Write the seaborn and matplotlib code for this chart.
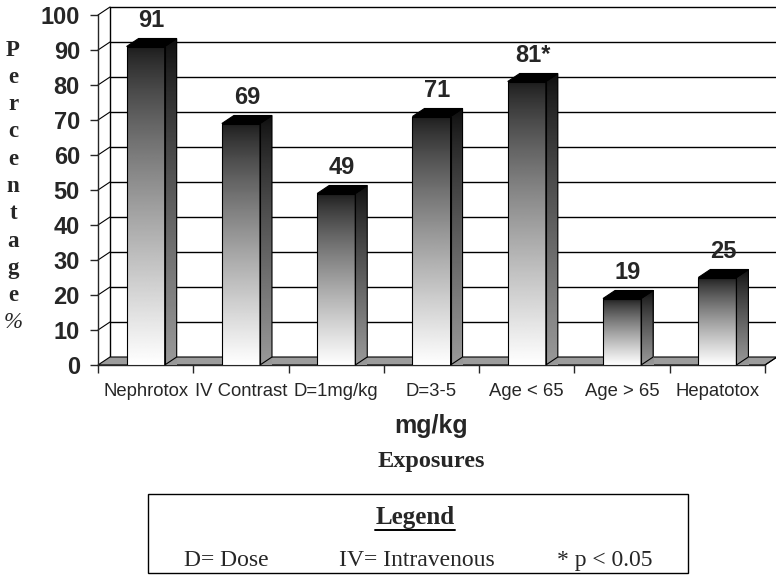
import numpy as np
import pandas as pd
import seaborn as sns
import matplotlib.pyplot as plt
from matplotlib.patches import Polygon, Rectangle
from matplotlib.lines import Line2D

# data
exposures = ["Nephrotox", "IV Contrast", "D=1mg/kg", "D=3-5", "Age < 65", "Age > 65", "Hepatotox"]
percentages = [91, 69, 49, 71, 81, 19, 25]
bar_labels = ["91", "69", "49", "71", "81*", "19", "25"]
yticks = list(range(0, 101, 10))

df = pd.DataFrame({"Exposure": exposures, "Percentage": percentages})

sns.set_style("white")
plt.rcParams["font.family"] = ["Liberation Sans", "DejaVu Sans"]

fig = plt.figure(figsize=(7.76, 5.75), dpi=100)
ax = fig.add_axes([98 / 776, 210 / 575, 667 / 776, 350 / 575])
ax.set_xlim(-0.5, len(exposures) - 0.5)
ax.set_ylim(0, 100)

# 3D depth in data units (12px right, 8px up)
dx = 12 * len(exposures) / 667
dy = 8 * 100 / 350
x0, x1 = -0.5, len(exposures) - 0.5

# floor, back wall and side wall grid
ax.add_patch(Polygon([(x0, 0), (x0 + dx, dy), (x1 + dx, dy), (x1, 0)], closed=True,
                     facecolor="#9c9c9c", edgecolor="black", lw=0.8, zorder=1, clip_on=False))
for v in yticks[1:]:
    ax.add_line(Line2D([x0 + dx, x1 + dx], [v + dy, v + dy], color="black", lw=1.0, zorder=0.5, clip_on=False))
    ax.add_line(Line2D([x0, x0 + dx], [v, v + dy], color="black", lw=0.8, zorder=0.5, clip_on=False))
ax.add_line(Line2D([x0 + dx, x0 + dx], [dy, 100 + dy], color="black", lw=1.0, zorder=0.5, clip_on=False))
ax.add_line(Line2D([x1 + dx, x1 + dx], [dy, 100 + dy], color="black", lw=1.0, zorder=0.5, clip_on=False))
ax.add_line(Line2D([x1, x1 + dx], [0, dy], color="black", lw=0.8, zorder=1.5, clip_on=False))

sns.barplot(data=df, x="Exposure", y="Percentage", width=0.4, color="white",
            edgecolor="black", linewidth=0.8, ax=ax, zorder=3)

grad = np.linspace(0, 1, 256).reshape(-1, 1) ** 0.8
for patch, lab in zip(ax.patches[1:], bar_labels):
    bx, bw, h = patch.get_x(), patch.get_width(), patch.get_height()
    patch.set_facecolor("none")
    patch.set_zorder(4)
    # front face gradient, dark top to white bottom
    im = ax.imshow(grad, cmap="gray", vmin=-0.12, vmax=1.0, aspect="auto",
                   extent=(bx, bx + bw, 0, h), origin="upper", zorder=3, interpolation="bilinear")
    im.set_clip_path(patch)
    # side face
    side = Polygon([(bx + bw, 0), (bx + bw + dx, dy), (bx + bw + dx, h + dy), (bx + bw, h)], closed=True,
                   facecolor="none", edgecolor="black", lw=0.8, zorder=4, clip_on=False)
    ax.add_patch(side)
    im2 = ax.imshow(grad * 0.55, cmap="gray", vmin=-0.05, vmax=0.95, aspect="auto",
                    extent=(bx + bw, bx + bw + dx, 0, h + dy), origin="upper", zorder=3,
                    interpolation="bilinear", clip_on=False)
    im2.set_clip_path(side)
    # top face
    ax.add_patch(Polygon([(bx, h), (bx + dx, h + dy), (bx + bw + dx, h + dy), (bx + bw, h)], closed=True,
                         facecolor="black", edgecolor="black", lw=0.8, zorder=4, clip_on=False))
    ax.text(bx + bw / 2 + dx / 2, h + dy + 1.8, lab, ha="center", va="bottom",
            fontsize=17, fontweight="bold", clip_on=False)

ax.set_xlim(x0, x1)
ax.set_ylim(0, 100)

# axes styling
for s in ["top", "right"]:
    ax.spines[s].set_visible(False)
ax.spines["left"].set_linewidth(1.0)
ax.spines["bottom"].set_linewidth(1.0)
ax.set_yticks(yticks)
ax.set_yticklabels([str(v) for v in yticks], fontsize=17, fontweight="bold")
ax.tick_params(axis="y", left=True, length=6, width=1, pad=7)
ax.set_xticks(range(len(exposures)))
ax.set_xticklabels(exposures, fontsize=13.3, family=["Liberation Sans Narrow", "Liberation Sans"])
ax.set_xticks(np.arange(-0.5, len(exposures)), minor=True)
ax.tick_params(axis="x", which="major", length=0, pad=13)
ax.tick_params(axis="x", which="minor", bottom=True, length=6, width=1)
ax.set_xlabel("")
ax.set_ylabel("")

# texts outside the plot
fig.text(431 / 776, 1 - 426 / 575, "mg/kg", ha="center", va="center", fontsize=18, fontweight="bold")
fig.text(431 / 776, 1 - 461 / 575, "Exposures", ha="center", va="center", fontsize=17.5,
         fontweight="bold", family="Liberation Serif")
for i, ch in enumerate("Percentage%"):
    fig.text(13 / 776, 1 - (50 + i * 27.3) / 575, ch, ha="center", va="center", fontsize=16.5,
             fontweight="bold" if ch != "%" else "normal", family="Liberation Serif",
             style="italic" if ch == "%" else "normal")

# legend box
fig.add_artist(Rectangle((148 / 776, 1 - 573 / 575), 540 / 776, 79 / 575, transform=fig.transFigure,
                         facecolor="white", edgecolor="black", lw=1.0))
fig.text(415 / 776, 1 - 524 / 575, "Legend", ha="center", va="baseline", fontsize=18,
         fontweight="bold", family="Liberation Serif")
fig.add_artist(Line2D([375 / 776, 455 / 776], [1 - 529.5 / 575, 1 - 529.5 / 575],
                      transform=fig.transFigure, color="black", lw=1.4))
fig.text(226 / 776, 1 - 566 / 575, "D= Dose", ha="center", va="baseline", fontsize=17, family="Liberation Serif")
fig.text(417 / 776, 1 - 566 / 575, "IV= Intravenous", ha="center", va="baseline", fontsize=17, family="Liberation Serif")
fig.text(605 / 776, 1 - 566 / 575, "* p < 0.05", ha="center", va="baseline", fontsize=17, family="Liberation Serif")

fig.savefig("out.png", dpi=100)
